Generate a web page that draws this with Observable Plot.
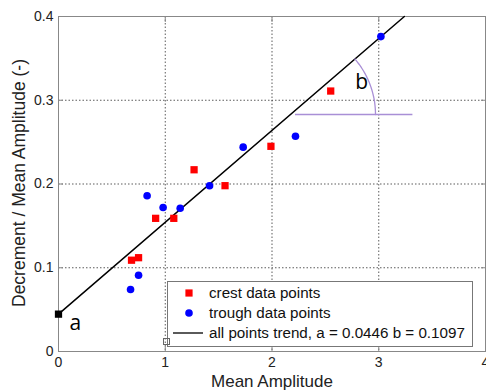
<!DOCTYPE html>
<html><head><meta charset="utf-8">
<script src="https://cdn.jsdelivr.net/npm/d3@7"></script>
<script src="https://cdn.jsdelivr.net/npm/@observablehq/plot@0.6"></script>
<style>
body{margin:0;background:#fff;}
#wrap{position:relative;width:486px;height:392px;font-family:"Liberation Sans",Arial,sans-serif;}
#legend{position:absolute;left:160px;top:281px;overflow:visible;}
</style></head><body><div id="wrap"></div>
<script>
// crest data points (red squares)
const crestX = [0.684, 0.75, 0.91, 1.08, 1.27, 1.56, 1.99, 2.55];
const crestY = [0.109, 0.112, 0.159, 0.159, 0.217, 0.198, 0.245, 0.311];
// trough data points (blue circles)
const troughX = [0.675, 0.75, 0.83, 0.98, 1.14, 1.415, 1.73, 2.22, 3.02];
const troughY = [0.074, 0.091, 0.186, 0.172, 0.171, 0.198, 0.244, 0.257, 0.376];
// trend parameters
const trendA = 0.0446, trendB = 0.1097;
const xTicks = [0, 1, 2, 3, 4];
const yTicks = [0, 0.1, 0.2, 0.3, 0.4];
const legendLabels = ["crest data points", "trough data points", "all points trend, a = 0.0446 b = 0.1097"];

const W = 486, H = 392, mL = 58, mR = 1, mT = 16, mB = 41;
const xDom = [0, 4], yDom = [0, 0.4];

const crest = crestX.map((x, i) => ({x, y: crestY[i]}));
const trough = troughX.map((x, i) => ({x, y: troughY[i]}));
const xEnd = (yDom[1] - trendA) / trendB;
const trend = [{x: 0, y: trendA}, {x: xEnd, y: trendA + trendB * xEnd}];

// angle annotation "b"
const hY = 0.283, hX1 = 2.22, hX2 = 3.32;
const xc = (hY - trendA) / trendB;
const pxPerX = (W - mL - mR) / (xDom[1] - xDom[0]);
const pxPerY = (H - mT - mB) / (yDom[1] - yDom[0]);
const rPx = 85;
const angle = Math.atan(trendB * pxPerY / pxPerX);
const arc = d3.range(0, 41).map(i => {
  const t = angle * i / 40;
  return {x: xc + rPx * Math.cos(t) / pxPerX, y: hY + rPx * Math.sin(t) / pxPerY};
});

const tickStyle = {fontSize: 14, fill: "#222"};
const chart = Plot.plot({
  width: W, height: H,
  marginLeft: mL, marginRight: mR, marginTop: mT, marginBottom: mB,
  style: {fontFamily: "'Liberation Sans', Arial, sans-serif", background: "#fff"},
  x: {domain: xDom},
  y: {domain: yDom},
  marks: [
    Plot.gridX([1, 2, 3], {stroke: "#333", strokeOpacity: 0.8, strokeDasharray: "1.5,2"}),
    Plot.gridY([0.1, 0.2, 0.3], {stroke: "#333", strokeOpacity: 0.8, strokeDasharray: "1.5,2"}),
    Plot.frame({stroke: "#888"}),
    Plot.axisX(xTicks, {anchor: "bottom", tickSize: -5, tickPadding: 11, stroke: "#888", tickFormat: d => String(d), label: null, ...tickStyle}),
    Plot.axisX(xTicks, {anchor: "top", tickSize: -5, text: null, stroke: "#888", label: null}),
    Plot.axisY(yTicks, {anchor: "left", tickSize: -5, tickPadding: 10, stroke: "#888", tickFormat: d => String(d), label: null, ...tickStyle}),
    Plot.axisY(yTicks, {anchor: "right", tickSize: -5, text: null, stroke: "#888", label: null}),
    Plot.line(trend, {x: "x", y: "y", stroke: "#000", strokeWidth: 1.5}),
    Plot.ruleY([hY], {x1: hX1, x2: hX2, stroke: "#a98fd6", strokeWidth: 1.3}),
    Plot.line(arc, {x: "x", y: "y", stroke: "#a98fd6", strokeWidth: 1.3}),
    Plot.dot(crest, {x: "x", y: "y", symbol: "square", r: 4.1, fill: "#ff0000"}),
    Plot.dot(trough, {x: "x", y: "y", symbol: "circle", r: 3.8, fill: "#0000ff"}),
    Plot.dot([trend[0]], {x: "x", y: "y", symbol: "square", r: 4.1, fill: "#000", clip: false}),
    Plot.text(["a"], {x: 0, y: trendA, text: d => d, dx: 11, dy: 9, textAnchor: "start", fontSize: 21, fontFamily: "'Open Sans', sans-serif", fill: "#000"}),
    Plot.text(["b"], {x: 2.84, y: 0.321, text: d => d, fontSize: 21, fontFamily: "'Open Sans', sans-serif", fill: "#000"}),
    Plot.text(["Mean Amplitude"], {frameAnchor: "bottom", textAnchor: "middle", dy: 35, text: d => d, fontSize: 17, fill: "#222"}),
    Plot.text(["Decrement / Mean Amplitude (-)"], {frameAnchor: "left", textAnchor: "middle", dx: -39, dy: -1, rotate: -90, text: d => d, fontSize: 17.5, fill: "#222"})
  ]
});
const wrap = document.getElementById("wrap");
wrap.appendChild(chart);

// legend box inside plot area
const ox = 7;
const lg = d3.select(wrap).append("svg").attr("id", "legend")
  .attr("width", 316).attr("height", 70)
  .style("font-family", "'Liberation Sans', Arial, sans-serif");
lg.append("rect").attr("x", ox + 0.5).attr("y", 0.5).attr("width", 305).attr("height", 65)
  .attr("fill", "#fff").attr("stroke", "#777");
const rows = [12, 32, 52];
lg.append("rect").attr("x", ox + 22 - 3.6).attr("y", rows[0] - 3.6).attr("width", 7.2).attr("height", 7.2).attr("fill", "#ff0000");
lg.append("circle").attr("cx", ox + 22).attr("cy", rows[1]).attr("r", 3.8).attr("fill", "#0000ff");
lg.append("line").attr("x1", ox + 6).attr("x2", ox + 36).attr("y1", rows[2]).attr("y2", rows[2]).attr("stroke", "#000").attr("stroke-width", 1.3);
lg.selectAll("text.l").data(legendLabels).join("text").attr("class", "l")
  .attr("x", ox + 42).attr("y", (d, i) => rows[i]).attr("dy", "0.35em")
  .attr("font-size", 15.2).attr("fill", "#111").text(d => d);
lg.append("rect").attr("x", ox - 3.5).attr("y", 57.5).attr("width", 6).attr("height", 6)
  .attr("fill", "none").attr("stroke", "#666");
</script></body></html>
